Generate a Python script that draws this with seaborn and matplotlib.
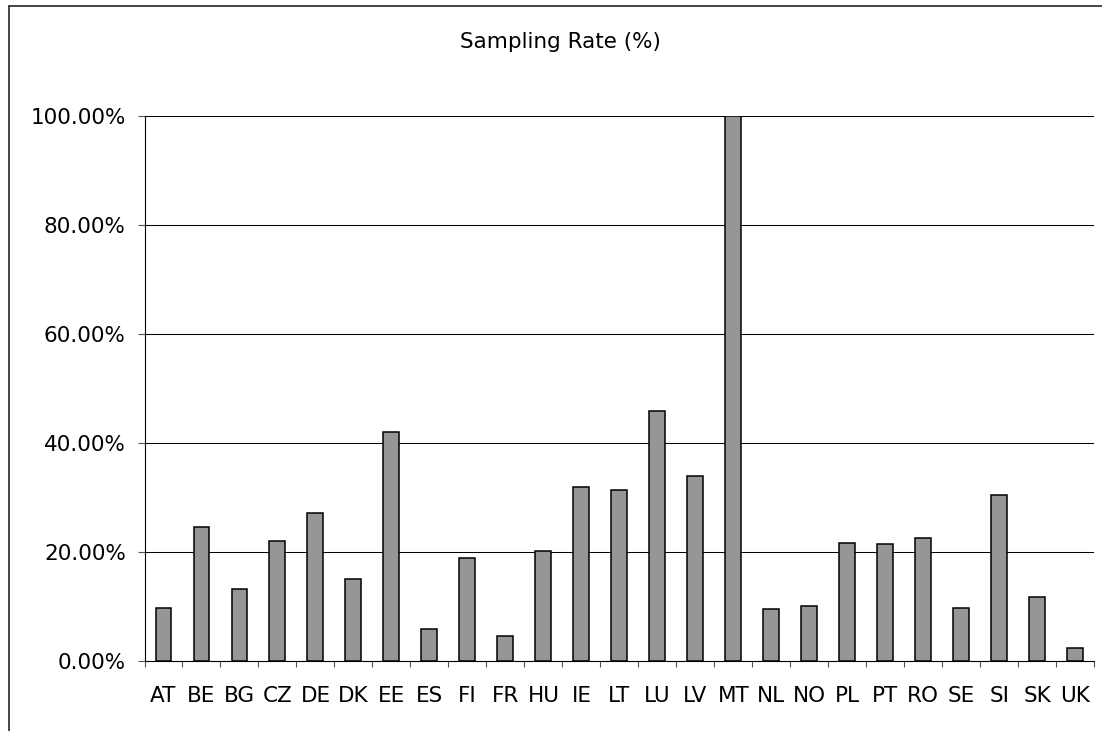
import numpy as np
import pandas as pd
import matplotlib
matplotlib.use("Agg")
import matplotlib.pyplot as plt
from matplotlib.lines import Line2D
from matplotlib.ticker import FixedLocator, FuncFormatter
import seaborn as sns

countries = ["AT", "BE", "BG", "CZ", "DE", "DK", "EE", "ES", "FI", "FR",
             "HU", "IE", "LT", "LU", "LV", "MT", "NL", "NO", "PL", "PT",
             "RO", "SE", "SI", "SK", "UK"]
sampling_rate = [9.7, 24.5, 13.2, 22.0, 27.1, 14.9, 42.0, 5.9, 18.8, 4.6,
                 20.1, 31.9, 31.3, 45.8, 33.9, 100.0, 9.4, 10.0, 21.6, 21.4,
                 22.6, 9.7, 30.4, 11.6, 2.3]
y_ticks = [0, 20, 40, 60, 80, 100]

sns.set_theme(style="white")
plt.rcParams["font.family"] = ["DejaVu Sans"]
FS = 15.5

df = pd.DataFrame({"country": countries, "rate": sampling_rate})

W, H = 1102, 731
fig = plt.figure(figsize=(W / 100, H / 100), dpi=100)
fig.patch.set_facecolor("white")

# plot area in pixel coordinates
left, right, top, bottom = 144.5, 1094.3, 115.7, 660.7
ax = fig.add_axes([left / W, 1 - bottom / H, (right - left) / W, (bottom - top) / H])

sns.barplot(data=df, x="country", y="rate", color="#969696", saturation=1,
            edgecolor="black", linewidth=1.1, width=0.42, ax=ax, zorder=3)

ax.set_xlim(-0.5, len(countries) - 0.5)
ax.set_ylim(0, 100)
ax.set_xlabel("")
ax.set_ylabel("")

# horizontal gridlines
ax.yaxis.set_major_locator(FixedLocator(y_ticks))
ax.yaxis.set_major_formatter(FuncFormatter(lambda v, _: f"{v:.2f}%"))
ax.grid(axis="y", color="black", linewidth=0.75, zorder=0)
ax.grid(axis="x", visible=False)
ax.set_axisbelow(True)

for side in ["top", "right"]:
    ax.spines[side].set_visible(False)
for side in ["left", "bottom"]:
    ax.spines[side].set_visible(True)
    ax.spines[side].set_color("black")
    ax.spines[side].set_linewidth(0.8)

# category labels centred, tick marks between categories
ax.set_xticks(range(len(countries)))
ax.set_xticklabels(countries)
ax.set_xticks(np.arange(-0.5, len(countries), 1), minor=True)
ax.tick_params(axis="x", which="major", length=0, pad=18.5, labelsize=FS,
               labelcolor="black")
ax.tick_params(axis="x", which="minor", bottom=True, length=4.5, width=0.8,
               color="#555555", direction="out")
ax.tick_params(axis="y", which="major", left=True, length=5, width=0.8,
               color="#555555", pad=8.5, labelsize=FS, labelcolor="black",
               direction="out")

fig.text(560 / W, 1 - 48.5 / H, "Sampling Rate (%)", ha="center", va="baseline",
         fontsize=FS, color="black")

# outer chart frame (left and top edges)
fx, fy = 8.5 / W, 1 - 5.5 / H
fig.add_artist(Line2D([fx, fx], [fy, -0.01], color="#262626", linewidth=1.2,
                      transform=fig.transFigure))
fig.add_artist(Line2D([fx, 1.01], [fy, fy], color="#262626", linewidth=1.2,
                      transform=fig.transFigure))

fig.savefig("out.png", dpi=100, facecolor="white")
